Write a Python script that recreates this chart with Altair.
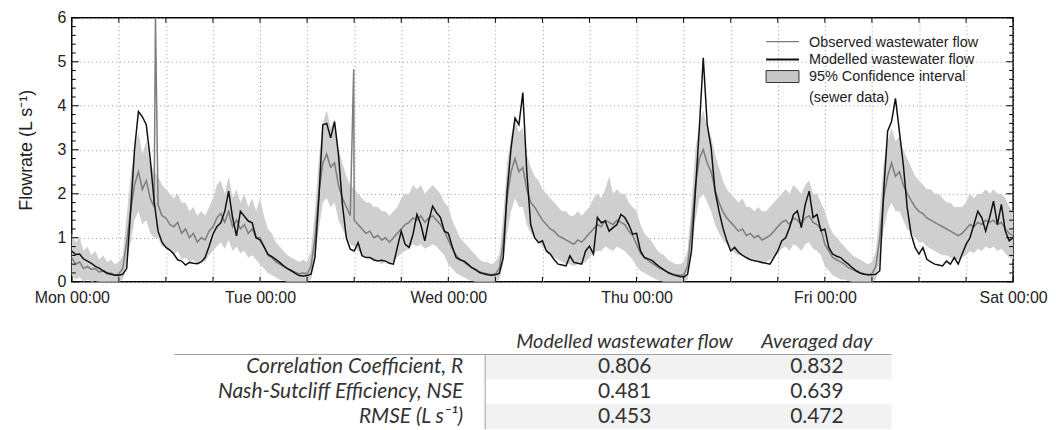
import json
import altair as alt
import pandas as pd

# ---------------- data (30-min steps per day) ----------------
DAYS = ["Mon", "Tue", "Wed", "Thu", "Fri", "Sat"]

model_mon = [0.70,0.62,0.63,0.52,0.47,0.42,0.35,0.31,0.25,0.20,0.17,0.15,0.15,0.17,0.30,1.60,3.00,3.87,3.75,3.57,2.80,1.83,1.15,0.90,0.78,0.72,0.63,0.50,0.47,0.38,0.44,0.42,0.41,0.45,0.55,0.80,1.08,1.25,1.34,1.60,2.06,1.46,1.04,1.60,1.49,1.38,1.34,1.00]
model_tue = [0.95,0.80,0.63,0.57,0.51,0.44,0.36,0.30,0.25,0.19,0.14,0.13,0.14,0.17,0.55,1.90,3.57,3.60,3.27,3.64,2.89,1.76,1.00,0.74,0.70,0.89,0.59,0.55,0.55,0.50,0.47,0.49,0.47,0.42,0.40,0.78,1.15,0.85,0.78,1.08,1.53,1.30,0.93,1.38,1.72,1.57,1.46,1.15]
model_wed = [1.10,0.80,0.55,0.50,0.47,0.40,0.32,0.27,0.21,0.18,0.16,0.15,0.16,0.19,0.55,2.06,3.04,3.72,3.57,4.30,2.51,1.30,1.00,0.89,0.93,0.70,0.63,0.50,0.40,0.38,0.36,0.59,0.44,0.42,0.40,0.70,0.81,0.63,1.46,1.34,1.38,1.15,1.23,1.30,1.53,1.46,1.30,1.08]
model_thu = [1.10,0.70,0.55,0.52,0.48,0.40,0.33,0.27,0.21,0.17,0.14,0.12,0.11,0.17,0.70,2.06,3.50,5.09,3.58,3.05,2.06,1.61,1.23,0.93,0.70,0.78,0.67,0.60,0.55,0.50,0.48,0.46,0.44,0.42,0.40,0.55,0.70,0.93,1.00,1.23,1.53,1.61,1.23,1.76,2.06,1.46,1.53,1.16]
model_fri = [1.20,0.78,0.63,0.58,0.55,0.47,0.40,0.32,0.25,0.20,0.17,0.16,0.16,0.17,0.25,2.06,3.42,3.64,4.17,3.42,2.66,1.68,1.08,0.78,0.63,0.78,0.51,0.45,0.40,0.38,0.36,0.47,0.40,0.55,0.40,0.63,0.85,1.00,1.30,1.60,1.46,1.15,1.46,1.83,1.30,1.76,1.15,0.93]
model_end = 1.00

obs_mon = [0.55,0.40,0.45,0.30,0.35,0.28,0.30,0.22,0.25,0.18,0.20,0.15,0.18,0.30,0.90,1.60,2.20,2.50,2.10,2.30,1.90,1.70,1.75,1.50,1.45,1.30,1.25,1.35,1.10,1.20,1.00,1.10,0.90,1.00,0.95,1.15,1.25,1.45,1.55,1.35,1.60,1.25,1.40,1.20,1.30,1.10,1.20,1.00]
obs_tue = [1.00,0.80,0.60,0.55,0.45,0.40,0.35,0.30,0.25,0.22,0.18,0.20,0.18,0.35,1.00,2.00,2.70,2.90,2.60,2.70,2.20,1.90,1.70,1.50,1.40,1.30,1.20,1.10,1.15,1.00,1.05,0.95,1.00,0.90,1.00,1.10,1.20,1.30,1.35,1.45,1.40,1.50,1.35,1.45,1.50,1.40,1.30,1.15]
obs_wed = [0.95,0.75,0.60,0.50,0.45,0.38,0.32,0.28,0.22,0.20,0.18,0.16,0.18,0.30,0.90,1.90,2.50,2.80,2.50,2.60,2.10,1.80,1.70,1.55,1.40,1.30,1.20,1.15,1.05,1.00,0.95,0.90,0.85,0.95,0.90,1.00,1.10,1.20,1.30,1.25,1.40,1.35,1.30,1.40,1.35,1.30,1.15,1.05]
obs_thu = [0.85,0.65,0.55,0.48,0.42,0.36,0.30,0.26,0.22,0.18,0.16,0.15,0.16,0.35,1.20,2.20,2.80,3.00,2.70,2.50,2.10,1.80,1.60,1.45,1.35,1.25,1.15,1.20,1.05,1.10,1.00,1.05,0.95,1.00,1.05,1.15,1.25,1.35,1.40,1.30,1.45,1.40,1.30,1.45,1.50,1.35,1.30,1.20]
obs_fri = [0.85,0.70,0.55,0.50,0.45,0.40,0.32,0.28,0.24,0.20,0.18,0.16,0.18,0.35,1.00,1.90,2.40,2.70,2.40,2.50,2.20,2.00,1.85,1.70,1.60,1.55,1.45,1.40,1.35,1.30,1.25,1.20,1.15,1.10,1.05,1.10,1.20,1.30,1.25,1.35,1.30,1.40,1.35,1.40,1.30,1.35,1.20,1.10]
obs_end = 1.05
spike_hours = [10.67, 35.94]
spike_values = [6.0, 4.83]

lo_mon = [0.15,0.05,0.10,0.00,0.05,0.00,0.02,0.00,0.00,0.00,0.00,0.00,0.00,0.05,0.40,0.90,1.40,1.60,1.30,1.40,1.10,1.00,1.00,0.80,0.80,0.70,0.60,0.70,0.50,0.55,0.45,0.50,0.40,0.45,0.45,0.60,0.70,0.80,0.90,0.75,0.95,0.70,0.80,0.65,0.70,0.55,0.60,0.50]
lo_tue = [0.40,0.30,0.20,0.15,0.10,0.05,0.02,0.00,0.00,0.00,0.00,0.00,0.00,0.05,0.50,1.20,1.80,1.90,1.70,1.80,1.40,1.20,1.00,0.85,0.80,0.70,0.60,0.55,0.55,0.45,0.50,0.40,0.45,0.40,0.45,0.55,0.65,0.70,0.75,0.85,0.80,0.85,0.75,0.80,0.85,0.80,0.70,0.60]
lo_wed = [0.40,0.30,0.20,0.15,0.10,0.05,0.02,0.00,0.00,0.00,0.00,0.00,0.00,0.05,0.40,1.10,1.60,1.90,1.70,1.70,1.30,1.10,1.00,0.90,0.80,0.70,0.60,0.55,0.50,0.45,0.40,0.40,0.35,0.40,0.40,0.45,0.55,0.65,0.70,0.70,0.80,0.75,0.70,0.80,0.75,0.70,0.60,0.50]
lo_thu = [0.35,0.25,0.20,0.15,0.10,0.05,0.02,0.00,0.00,0.00,0.00,0.00,0.00,0.05,0.60,1.40,1.90,2.00,1.80,1.60,1.30,1.10,0.95,0.85,0.75,0.65,0.60,0.60,0.50,0.50,0.45,0.45,0.40,0.45,0.50,0.55,0.65,0.75,0.80,0.70,0.85,0.80,0.70,0.85,0.90,0.75,0.70,0.60]
lo_fri = [0.35,0.25,0.15,0.10,0.05,0.05,0.02,0.00,0.00,0.00,0.00,0.00,0.00,0.05,0.50,1.20,1.60,1.80,1.60,1.60,1.40,1.20,1.10,1.00,0.90,0.90,0.80,0.75,0.70,0.65,0.60,0.60,0.55,0.50,0.50,0.55,0.60,0.70,0.65,0.75,0.70,0.80,0.75,0.80,0.70,0.75,0.65,0.55]
lo_end = 0.50

hi_mon = [1.10,0.90,1.00,0.70,0.80,0.60,0.70,0.50,0.60,0.45,0.50,0.40,0.45,0.60,1.50,2.40,3.00,3.40,2.90,3.20,2.70,2.50,2.40,2.20,2.10,2.00,1.90,2.00,1.80,1.80,1.60,1.70,1.50,1.60,1.50,1.70,1.90,2.20,2.30,2.00,2.40,1.90,2.10,1.80,2.00,1.70,1.90,1.60]
hi_tue = [1.90,1.50,1.20,1.10,0.90,0.80,0.70,0.60,0.55,0.50,0.45,0.50,0.45,0.70,1.60,2.80,3.60,3.90,3.50,3.70,3.00,2.70,2.40,2.20,2.10,2.00,1.90,1.80,1.80,1.70,1.70,1.60,1.60,1.50,1.60,1.70,1.90,2.00,2.00,2.20,2.10,2.20,2.00,2.10,2.20,2.10,2.00,1.80]
hi_wed = [1.70,1.40,1.20,1.00,0.90,0.80,0.70,0.60,0.50,0.45,0.45,0.40,0.45,0.60,1.50,2.70,3.30,3.70,3.40,3.50,2.90,2.60,2.40,2.30,2.10,2.00,1.90,1.80,1.70,1.60,1.60,1.50,1.50,1.60,1.50,1.60,1.70,1.90,2.00,1.90,2.10,2.40,2.00,2.10,2.00,2.00,1.80,1.70]
hi_thu = [1.60,1.30,1.10,1.00,0.90,0.75,0.65,0.60,0.50,0.45,0.40,0.40,0.45,0.70,1.80,3.00,3.60,3.90,3.50,3.30,2.90,2.60,2.30,2.10,2.00,1.90,1.80,1.90,1.70,1.70,1.60,1.70,1.60,1.60,1.70,1.80,1.90,2.00,2.10,2.00,2.20,2.10,2.00,2.20,2.30,2.00,2.00,1.80]
hi_fri = [1.60,1.30,1.10,1.00,0.90,0.80,0.70,0.60,0.55,0.50,0.45,0.40,0.45,0.70,1.60,2.70,3.20,3.50,3.20,3.30,3.00,2.80,2.60,2.40,2.30,2.20,2.10,2.10,2.00,2.00,1.90,1.80,1.80,1.70,1.70,1.70,1.80,2.00,1.90,2.00,2.00,2.10,2.00,2.10,2.00,2.00,1.90,1.70]
hi_end = 1.60

# table
table_rows = ["header", "R", "NSE", "RMSE"]
table_labels = ["Correlation Coefficient, R", "Nash-Sutcliff Efficiency, NSE", "RMSE (L s\u207b\u00b9)"]
table_model = [0.806, 0.481, 0.453]
table_avg = [0.832, 0.639, 0.472]
table_headers = ["Modelled wastewater flow", "Averaged day"]
shaded_rows = ["R", "RMSE"]

legend_labels = ["Observed wastewater flow", "Modelled wastewater flow",
                 "95% Confidence interval", "(sewer data)"]


# ---------------- assemble tables ----------------
def join_days(*days, end):
    out = []
    for d in days:
        if len(d) != 48:
            raise ValueError("day list must have 48 values, got %d" % len(d))
        out.extend(d)
    out.append(end)
    return out

hours = [d * 24 + i * 0.5 for d in range(5) for i in range(48)] + [120.0]

df_model = pd.DataFrame({"hour": hours,
                         "flow": join_days(model_mon, model_tue, model_wed, model_thu, model_fri, end=model_end)})
df_obs = pd.DataFrame({"hour": hours,
                       "flow": join_days(obs_mon, obs_tue, obs_wed, obs_thu, obs_fri, end=obs_end)})
df_obs = pd.concat([df_obs, pd.DataFrame({"hour": spike_hours, "flow": spike_values})]).sort_values("hour")
df_ci = pd.DataFrame({"hour": hours,
                      "lo": join_days(lo_mon, lo_tue, lo_wed, lo_thu, lo_fri, end=lo_end),
                      "hi": join_days(hi_mon, hi_tue, hi_wed, hi_thu, hi_fri, end=hi_end)})

W, H = 945, 265
FONT = "Liberation Sans"
TXT = "#222222"
OBS_C = "#7d7d7d"
CI_C = "#cfcfcf"

x_ticks = list(range(0, 121, 6))
y_major = [0, 1, 2, 3, 4, 5, 6]
y_minor = [v / 5 for v in range(31) if v % 5 != 0]

label_expr = ("datum.value % 24 == 0 ? " + json.dumps(DAYS) +
              "[datum.value / 24] + ' 00:00' : ''")

x_axis = alt.Axis(values=x_ticks, labelExpr=label_expr, grid=True, gridDash=[1, 3],
                  gridColor="#999999", gridWidth=1, ticks=False, domain=False,
                  labelFontSize=16, labelFont=FONT, labelColor=TXT, labelPadding=8,
                  labelFlush=False, labelOverlap=False, title=None)
y_axis = alt.Axis(values=y_major, grid=True, gridDash=[1, 3], gridColor="#999999",
                  gridWidth=1, ticks=False, domain=False, labelFontSize=16,
                  labelFont=FONT, labelColor=TXT, labelPadding=6,
                  title="Flowrate (L s\u207b\u00b9)", titleFont=FONT, titleFontSize=18,
                  titleFontWeight="normal", titleColor=TXT, titlePadding=22)

x_scale = alt.Scale(domain=[0, 120], nice=False, zero=False)
y_scale = alt.Scale(domain=[0, 6], nice=False)
X = alt.X("hour:Q", scale=x_scale, axis=x_axis)
Y = alt.Y("flow:Q", scale=y_scale, axis=y_axis)

ci = alt.Chart(df_ci).mark_area(color=CI_C, opacity=1).encode(
    x=X, y=alt.Y("lo:Q", scale=y_scale, axis=y_axis), y2="hi:Q")
obs = alt.Chart(df_obs).mark_line(color=OBS_C, strokeWidth=1.5).encode(x=X, y=Y)
model = alt.Chart(df_model).mark_line(color="#111111", strokeWidth=1.5).encode(x=X, y=Y)

df_xt = pd.DataFrame({"hour": x_ticks})
df_ymaj = pd.DataFrame({"flow": y_major})
df_ymin = pd.DataFrame({"flow": y_minor})
tick = dict(color="#000000", strokeWidth=1)
ticks = [
    alt.Chart(df_xt).mark_rule(**tick).encode(x=X, y=alt.value(H), y2=alt.value(H - 5)),
    alt.Chart(df_xt).mark_rule(**tick).encode(x=X, y=alt.value(0), y2=alt.value(5)),
    alt.Chart(df_ymaj).mark_rule(**tick).encode(y=Y, x=alt.value(0), x2=alt.value(7)),
    alt.Chart(df_ymin).mark_rule(**tick).encode(y=Y, x=alt.value(0), x2=alt.value(4)),
    alt.Chart(df_ymaj).mark_rule(**tick).encode(y=Y, x=alt.value(W), x2=alt.value(W - 7)),
    alt.Chart(df_ymin).mark_rule(**tick).encode(y=Y, x=alt.value(W), x2=alt.value(W - 4)),
]

one = pd.DataFrame({"k": [0]})
LX0, LX1, LTX = 697, 730, 740
legend = [
    alt.Chart(one).mark_rule(color=OBS_C, strokeWidth=1.3).encode(
        x=alt.value(LX0), x2=alt.value(LX1), y=alt.value(24)),
    alt.Chart(one).mark_rule(color="#111111", strokeWidth=2).encode(
        x=alt.value(LX0), x2=alt.value(LX1), y=alt.value(42)),
    alt.Chart(one).mark_rect(fill="#c8c8c8", stroke="#333333", strokeWidth=1).encode(
        x=alt.value(LX0), x2=alt.value(LX1), y=alt.value(53), y2=alt.value(65)),
]
for lab, ly in zip(legend_labels, [25, 42, 59, 81]):
    legend.append(alt.Chart(one).mark_text(align="left", baseline="middle", font=FONT,
                                           fontSize=14.5, color=TXT).encode(
        x=alt.value(LTX), y=alt.value(ly), text=alt.value(lab)))

main = alt.layer(ci, obs, model, *ticks, *legend).properties(
    width=W, height=H, view=alt.ViewBackground(stroke="#000000", strokeWidth=1.5))

# ---------------- table ----------------
TF = "Lato"
TC = "#333333"
YT = alt.Y("row:N", scale=alt.Scale(domain=table_rows, range=[1, 101],
                                    paddingInner=0, paddingOuter=0), axis=None)
df_tab = pd.DataFrame({"row": table_rows[1:], "label": table_labels,
                       "model": ["%.3f" % v for v in table_model],
                       "avg": ["%.3f" % v for v in table_avg]})
df_head = pd.DataFrame({"row": ["header"], "h1": [table_headers[0]], "h2": [table_headers[1]]})
df_bg = pd.DataFrame({"row": shaded_rows})

tbl = [
    alt.Chart(df_bg).mark_rect(color="#f2f2f2").encode(y=YT, x=alt.value(415), x2=alt.value(823)),
    alt.Chart(one).mark_rule(color="#a0a0a0", strokeWidth=1).encode(
        x=alt.value(103), x2=alt.value(823), y=alt.value(26)),
    alt.Chart(one).mark_rule(color="#a0a0a0", strokeWidth=1).encode(
        x=alt.value(415), y=alt.value(26), y2=alt.value(101)),
    alt.Chart(df_tab).mark_text(align="right", baseline="middle", font=TF, fontSize=21,
                                fontStyle="italic", color=TC).encode(
        y=YT, x=alt.value(393), text="label:N"),
    alt.Chart(df_tab).mark_text(align="center", baseline="middle", font=TF, fontSize=21,
                                color=TC).encode(y=YT, x=alt.value(555), text="model:N"),
    alt.Chart(df_tab).mark_text(align="center", baseline="middle", font=TF, fontSize=21,
                                color=TC).encode(y=YT, x=alt.value(748), text="avg:N"),
    alt.Chart(df_head).mark_text(align="center", baseline="middle", font=TF, fontSize=20,
                                 fontStyle="italic", color=TC).encode(
        y=YT, x=alt.value(555), text="h1:N"),
    alt.Chart(df_head).mark_text(align="center", baseline="middle", font=TF, fontSize=20,
                                 fontStyle="italic", color=TC).encode(
        y=YT, x=alt.value(748), text="h2:N"),
]
table = alt.layer(*tbl).properties(width=W, height=100,
                                   view=alt.ViewBackground(stroke="transparent"))

chart = alt.vconcat(main, table, spacing=47, bounds="flush").properties(
    padding={"left": 8, "top": 0, "right": 0, "bottom": 0}
).configure(background="white")

chart.save("out.html", embed_options={"renderer": "svg", "actions": False})
